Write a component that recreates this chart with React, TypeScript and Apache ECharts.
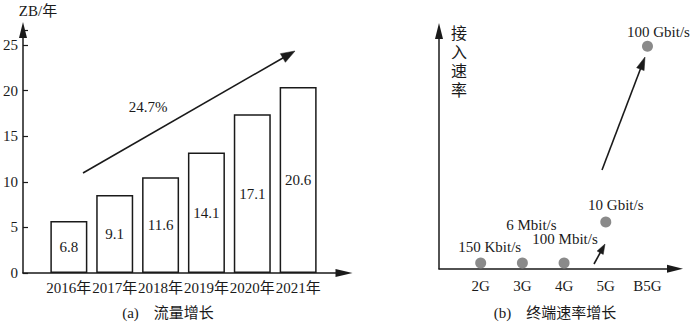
import React, { useEffect, useRef } from 'react';
import * as echarts from 'echarts';

// ---- data ----
const years = ['2016年', '2017年', '2018年', '2019年', '2020年', '2021年'];
const barHeights = [5.7, 8.55, 10.5, 13.2, 17.4, 20.4];
const barLabels = ['6.8', '9.1', '11.6', '14.1', '17.1', '20.6'];
const yTicks = [0, 5, 10, 15, 20, 25];
const growthLabel = '24.7%';
const leftUnit = 'ZB/年';
const leftCaption = '(a)\u3000流量增长';

const generations = ['2G', '3G', '4G', '5G', 'B5G'];
const speedLevels = [2.4, 2.4, 2.4, 19.6, 93.6];
const speedLabels = ['150 Kbit/s', '6 Mbit/s', '100 Mbit/s', '10 Gbit/s', '100 Gbit/s'];
const rightAxisName = '接入速率';
const rightCaption = '(b)\u3000终端速率增长';

// ---- styles ----
const labelOffsets = [[9, -3], [9, -25], [1, -11], [10, -4], [11, -1]];
const font = "'Liberation Serif', 'Times New Roman', 'Noto Sans CJK SC', serif";
const ink = '#1a1a1a';

function arrow(x1: number, y1: number, x2: number, y2: number, len: number, w: number) {
  const dx = x2 - x1;
  const dy = y2 - y1;
  const d = Math.hypot(dx, dy);
  const ux = dx / d;
  const uy = dy / d;
  const bx = x2 - ux * len;
  const by = y2 - uy * len;
  const px = -uy * (w / 2);
  const py = ux * (w / 2);
  return {
    type: 'group',
    children: [
      { type: 'line', shape: { x1, y1, x2: bx + ux * 2, y2: by + uy * 2 }, style: { stroke: ink, lineWidth: 1.6 } },
      {
        type: 'polygon',
        shape: { points: [[x2, y2], [bx + px, by + py], [bx - px, by - py]] },
        style: { fill: ink, stroke: ink, lineWidth: 0.5 },
      },
    ],
  };
}

const axisLineStyle = { color: ink, width: 1.5 };

export default function App() {
  const ref = useRef<HTMLDivElement>(null);
  useEffect(() => {
    if (!ref.current) return;
    const chart = echarts.init(ref.current, null, { renderer: 'svg' });
    const option: any = {
      animation: false,
      backgroundColor: '#fff',
      textStyle: { fontFamily: font, color: ink },
      grid: [
        { left: 22, top: 30, width: 322, height: 243 },
        { left: 439, top: 31, width: 236, height: 237.7 },
      ],
      xAxis: [
        {
          gridIndex: 0,
          type: 'category',
          data: ['', ...years, ''],
          boundaryGap: false,
          axisLine: { show: true, lineStyle: axisLineStyle, symbol: ['none', 'triangle'], symbolSize: [8, 17] },
          axisTick: { show: false },
          axisLabel: { color: ink, fontFamily: font, fontSize: 15, margin: 7, interval: 0 },
          splitLine: { show: false },
        },
        {
          gridIndex: 1,
          type: 'value',
          min: -1,
          max: 4.66,
          interval: 1,
          axisLine: { show: true, onZero: false, lineStyle: axisLineStyle, symbol: ['none', 'triangle'], symbolSize: [8, 16] },
          axisTick: { show: false },
          axisLabel: {
            color: ink,
            fontFamily: font,
            fontSize: 15,
            margin: 10,
            formatter: (v: number) =>
              Number.isInteger(v) && v >= 0 && v < generations.length ? generations[v] : '',
          },
          splitLine: { show: false },
        },
      ],
      yAxis: [
        {
          gridIndex: 0,
          type: 'value',
          min: 0,
          max: 26.64,
          interval: 5,
          axisLine: { show: true, onZero: false, lineStyle: axisLineStyle, symbol: ['none', 'triangle'], symbolSize: [8, 16] },
          axisTick: { show: true, inside: true, length: 5, lineStyle: { color: ink, width: 1.2 } },
          axisLabel: {
            color: ink,
            fontFamily: font,
            fontSize: 15,
            margin: 5,
            formatter: (v: number) => (yTicks.includes(v) ? String(v) : ''),
          },
          splitLine: { show: false },
        },
        {
          gridIndex: 1,
          type: 'value',
          min: 0,
          max: 100,
          axisLine: { show: true, onZero: false, lineStyle: axisLineStyle, symbol: ['none', 'triangle'], symbolSize: [8, 16] },
          axisTick: { show: false },
          axisLabel: { show: false },
          splitLine: { show: false },
        },
      ],
      series: [
        {
          type: 'bar',
          xAxisIndex: 0,
          yAxisIndex: 0,
          barWidth: 37,
          data: years.map((y, i) => [y, barHeights[i]]),
          itemStyle: { color: '#fff', borderColor: ink, borderWidth: 1.5 },
          label: {
            show: true,
            position: 'inside',
            color: ink,
            fontFamily: font,
            fontSize: 15,
            formatter: (p: any) => barLabels[p.dataIndex],
          },
        },
        {
          type: 'scatter',
          xAxisIndex: 1,
          yAxisIndex: 1,
          symbolSize: 11,
          itemStyle: { color: '#8a8a8a', opacity: 1 },
          data: generations.map((g, i) => ({
            name: g,
            value: [i, speedLevels[i]],
            label: { offset: labelOffsets[i] },
          })),
          label: {
            show: true,
            position: 'top',
            distance: 0,
            color: ink,
            fontFamily: font,
            fontSize: 15,
            formatter: (p: any) => speedLabels[p.dataIndex],
          },
        },
      ],
      graphic: [
        {
          type: 'text',
          x: 38,
          y: 11,
          style: { text: leftUnit, fontFamily: font, fontSize: 15, fill: ink, textAlign: 'center', textVerticalAlign: 'middle' },
        },
        {
          type: 'text',
          x: 148,
          y: 107,
          style: { text: growthLabel, fontFamily: font, fontSize: 15, fill: ink, textAlign: 'center', textVerticalAlign: 'middle' },
        },
        {
          type: 'text',
          x: 168,
          y: 313,
          style: { text: leftCaption, fontFamily: font, fontSize: 15, fill: ink, textAlign: 'center', textVerticalAlign: 'middle' },
        },
        {
          type: 'text',
          x: 555,
          y: 313,
          style: { text: rightCaption, fontFamily: font, fontSize: 15, fill: ink, textAlign: 'center', textVerticalAlign: 'middle' },
        },
        {
          type: 'text',
          x: 459,
          y: 24,
          style: {
            text: rightAxisName.split('').join('\n'),
            fontFamily: font,
            fontSize: 16,
            lineHeight: 19,
            fill: ink,
            textAlign: 'center',
            textVerticalAlign: 'top',
          },
        },
        arrow(83, 173, 295, 51, 14, 10),
        arrow(594, 264, 605, 244, 10, 7),
        arrow(602, 170, 645, 57, 13, 8),
      ],
    };
    chart.setOption(option);
    return () => chart.dispose();
  }, []);
  return (
    <div
      ref={ref}
      style={{ position: 'fixed', left: 0, top: 0, width: 700, height: 323, background: '#fff' }}
    />
  );
}
